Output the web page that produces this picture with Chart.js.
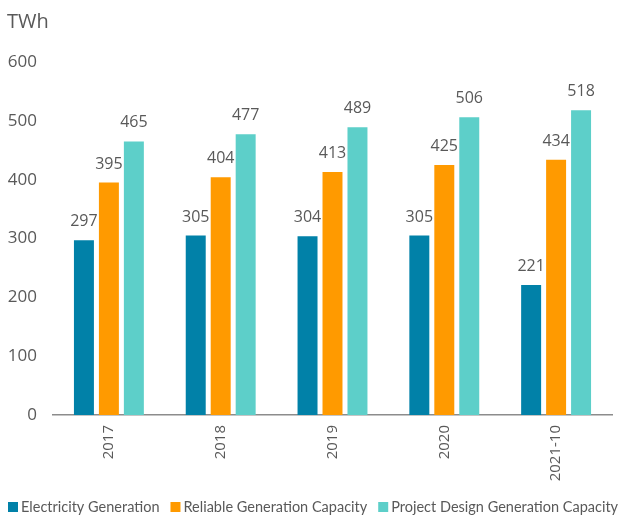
<!DOCTYPE html>
<html>
<head>
<meta charset="utf-8">
<script src="https://cdn.jsdelivr.net/npm/chart.js@4/dist/chart.umd.min.js"></script>
<style>
html,body{margin:0;padding:0;background:#fff;}
#wrap{width:623px;height:515px;position:relative;}
</style>
</head>
<body>
<div id="wrap"><canvas id="c" width="623" height="515"></canvas></div>
<script>
const categories = ["2017", "2018", "2019", "2020", "2021-10"];
const electricityGeneration = [297, 305, 304, 305, 221];
const reliableCapacity = [395, 404, 413, 425, 434];
const designCapacity = [465, 477, 489, 506, 518];
const yTicks = [0, 100, 200, 300, 400, 500, 600];
const seriesNames = ["Electricity Generation", "Reliable Generation Capacity", "Project Design Generation Capacity"];
const unitLabel = "TWh";

const FONT = "'Open Sans', 'Noto Sans', sans-serif";
const LFONT = "Lato, 'Open Sans', sans-serif";
const GREY = "#595959";

const labelPlugin = {
  id: 'barLabels',
  afterDatasetsDraw(chart) {
    const ctx = chart.ctx;
    ctx.save();
    ctx.font = "16px " + FONT;
    ctx.fillStyle = GREY;
    ctx.textAlign = 'center';
    ctx.textBaseline = 'alphabetic';
    chart.data.datasets.forEach((ds, i) => {
      const meta = chart.getDatasetMeta(i);
      meta.data.forEach((bar, j) => {
        ctx.fillText(String(ds.data[j]), bar.x, bar.y - 14);
      });
    });
    ctx.textAlign = 'left';
    ctx.font = "20px " + FONT;
    ctx.fillText(unitLabel, 7, 28);

    // legend
    ctx.font = "14.5px " + LFONT;
    ctx.textBaseline = 'middle';
    let x = 8;
    const yc = 507;
    chart.data.datasets.forEach(ds => {
      ctx.fillStyle = ds.backgroundColor;
      ctx.fillRect(x, yc - 5, 10, 10);
      ctx.fillStyle = GREY;
      ctx.fillText(ds.label, x + 13, yc);
      x += 13 + ctx.measureText(ds.label).width + 11;
    });
    ctx.restore();
  }
};

new Chart(document.getElementById('c'), {
  type: 'bar',
  data: {
    labels: categories,
    datasets: [
      {label: seriesNames[0], data: electricityGeneration, backgroundColor: '#0181a8'},
      {label: seriesNames[1], data: reliableCapacity, backgroundColor: '#ff9a00'},
      {label: seriesNames[2], data: designCapacity, backgroundColor: '#5dcfc9'}
    ]
  },
  options: {
    responsive: false,
    animation: false,
    devicePixelRatio: 1,
    layout: {padding: {top: 62, right: 11, left: 0, bottom: 28}},
    datasets: {bar: {categoryPercentage: 0.67, barPercentage: 0.8}},
    scales: {
      x: {
        grid: {display: false, drawTicks: false},
        border: {display: true, color: '#8c8c8c', width: 1.5},
        ticks: {minRotation: 90, maxRotation: 90, color: GREY, font: {family: FONT, size: 15}, padding: 10},
        afterFit(s) { s.height = 72; }
      },
      y: {
        min: 0, max: 600,
        afterBuildTicks(s) { s.ticks = yTicks.map(v => ({value: v})); },
        grid: {display: false, drawTicks: false},
        border: {display: false},
        ticks: {color: GREY, font: {family: FONT, size: 17}, padding: 16},
        afterFit(s) { s.width = 53; }
      }
    },
    plugins: {
      legend: {display: false},
      tooltip: {enabled: false}
    }
  },
  plugins: [labelPlugin]
});
</script>
</body>
</html>
